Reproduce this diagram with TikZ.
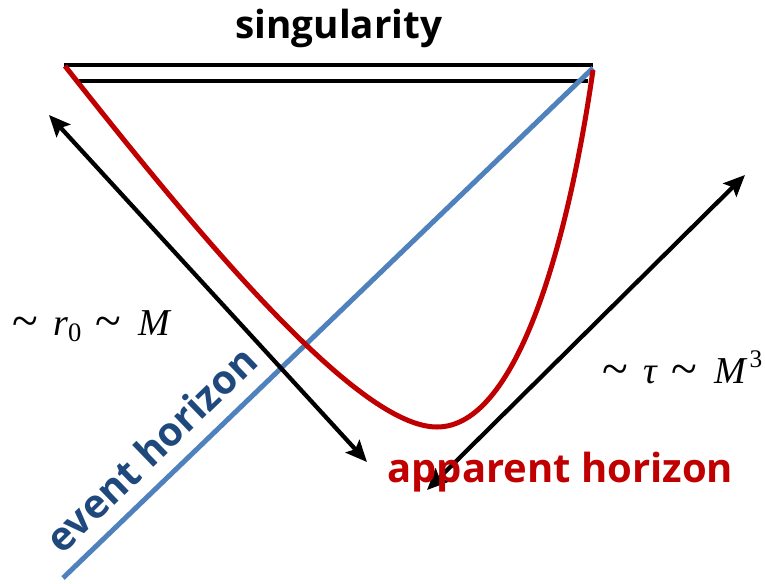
\documentclass[tikz,border=0pt]{standalone}
\usepackage{fontspec}
\usepackage{graphicx}
\newfontfamily\lblfont{Open Sans}
\newfontfamily\tnr{Liberation Serif}
\usetikzlibrary{arrows.meta}
\definecolor{redc}{HTML}{C00000}
\definecolor{bluel}{HTML}{4F81BD}
\definecolor{bluet}{HTML}{1F497D}
\newcommand{\bigtil}{\raisebox{-1.5pt}{\scalebox{1.25}[1.3]{\textasciitilde}}}
\tikzset{
  singline/.style={line width=3pt, draw=black},
  redcurve/.style={line width=3.75pt, draw=redc},
  blueline/.style={line width=3.75pt, draw=bluel},
  dblarrow/.style={line width=3.2pt, draw=black,
    {Stealth[length=16pt,width=14pt,inset=3pt]}-{Stealth[length=16pt,width=14pt,inset=3pt]}},
  titletext/.style={font=\lblfont\bfseries\fontsize{29}{32}\selectfont, inner sep=0pt},
  horiztext/.style={font=\lblfont\bfseries\fontsize{30}{33}\selectfont, inner sep=0pt},
  mathtext/.style={font=\tnr\fontsize{28.5}{31}\selectfont, inner sep=0pt},
}
\begin{document}
\begin{tikzpicture}[x=0.75pt,y=-0.75pt]
\useasboundingbox (0,0) rectangle (765,583);
% singularity lines
\coordinate (s1a) at (64,65);
\coordinate (s1b) at (593,65);
\coordinate (s2a) at (79,81);
\coordinate (s2b) at (588,81);
\draw[singline] (s1a) -- (s1b);
\draw[singline] (s2a) -- (s2b);
% event horizon line
\coordinate (eh0) at (63,578);
\coordinate (eh1) at (593,68);
\draw[blueline] (eh0) -- (eh1);
% apparent horizon curve
\coordinate (ah0) at (65,66);
\coordinate (ahm) at (437,427);
\coordinate (ah1) at (593,70);
\draw[redcurve] (ah0) .. controls (210,250) and (360,427) .. (ahm)
  .. controls (520,427) and (570,230) .. (ah1);
% arrows
\coordinate (a1) at (49,115);
\coordinate (a2) at (367,462);
\coordinate (b1) at (427,490);
\coordinate (b2) at (745,175);
\draw[dblarrow] (a1) -- (a2);
\draw[dblarrow] (b1) -- (b2);
% labels
\node[titletext, anchor=base] (sing) at (339,38) {singularity};
\node[horiztext, text=redc, anchor=base west] (ahl) at (387,482) {apparent horizon};
\node[horiztext, text=bluet, rotate=44] (ehl) at (151,449) {event horizon};
\node[mathtext, anchor=base west] (r0) at (12,335)
  {\bigtil\hspace{0.4em}\textit{r}\textsubscript{0}\hspace{0.35em}\bigtil\hspace{0.45em}\textit{M}};
\node[mathtext, anchor=base west] (tau) at (602,383)
  {\bigtil\hspace{0.4em}\textit{τ}\hspace{0.35em}\bigtil\hspace{0.45em}\textit{M}\hspace{0.06em}\raisebox{12pt}{\fontsize{19}{19}\selectfont 3}};
\end{tikzpicture}
\end{document}
